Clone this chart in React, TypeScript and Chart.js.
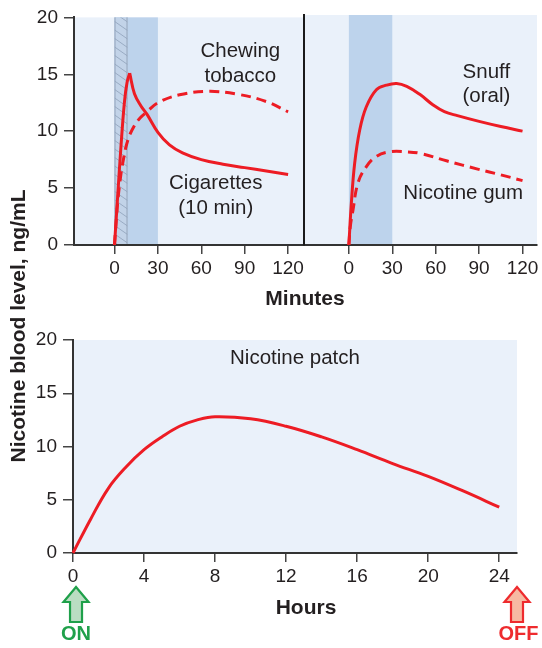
import { useEffect, useRef } from "react";
import { Chart, registerables } from "chart.js";

Chart.register(...registerables);

// ---------------- data ----------------
const levelTicks = [0, 5, 10, 15, 20];
const minuteTicks = [0, 30, 60, 90, 120];
const hourTicks = [0, 4, 8, 12, 16, 20, 24];

// Cigarettes (10 min) – rising limb and decay limb share the peak point
const cigRiseMinutes = [0, 2.3, 4.6, 6.9, 8.7, 10.5];
const cigRiseLevels = [0, 4.5, 8.9, 12.6, 14.3, 15.1];
const cigDecayMinutes = [10.5, 13.8, 18.4, 22.4, 30, 38, 47, 60, 75, 90, 105, 120];
const cigDecayLevels = [15.1, 13.3, 12.2, 11.5, 9.9, 8.8, 8.1, 7.5, 7.1, 6.8, 6.5, 6.2];

// Chewing tobacco
const chewMinutes = [0, 1, 2.3, 4, 5.7, 9.2, 13.8, 18, 22.4, 30, 45, 65, 85, 105, 120];
const chewLevels = [0, 1.8, 3.9, 5.8, 7.2, 9.2, 10.5, 11.2, 11.7, 12.5, 13.2, 13.5, 13.25, 12.6, 11.7];

// Snuff (oral)
const snuffMinutes = [0, 1.7, 4, 7.5, 12, 19, 26, 33, 40, 49, 58, 66, 75, 90, 105, 120];
const snuffLevels = [0, 3.6, 7.1, 10.0, 12.0, 13.5, 13.9, 14.05, 13.8, 13.1, 12.2, 11.6, 11.25, 10.75, 10.3, 9.9];

// Nicotine gum
const gumMinutes = [0, 1, 2.8, 6.3, 12, 19, 28, 40, 50, 68, 89, 105, 120];
const gumLevels = [0, 1.6, 3.0, 5.4, 6.8, 7.7, 8.1, 8.1, 7.95, 7.3, 6.6, 6.1, 5.6];

// Nicotine patch
const patchHours = [0, 1, 2, 3, 4, 5, 6, 7, 8, 10, 12, 14, 16, 18, 20, 22, 24];
const patchLevels = [0, 3.2, 6.1, 8.1, 9.7, 10.9, 11.9, 12.5, 12.8, 12.6, 11.9, 10.9, 9.7, 8.4, 7.2, 5.8, 4.3];

// exposure periods (minutes)
const cigaretteSmoking = [0, 9];
const chewExposure = [0, 30];
const snuffExposure = [0, 30];

// ---------------- style ----------------
const W = 542;
const H = 648;
const FONT = '"Liberation Sans", Arial, Helvetica, sans-serif';
const INK = "#231F20";
const RED = "#ED1C24";
const BG = "#EAF1FA";
const BAND = "#BDD3EC";

const pts = (xs: number[], ys: number[]) => xs.map((x, i) => ({ x, y: ys[i] }));

const panelPlugin: any = {
  id: "panel",
  beforeDraw(chart: any, _a: any, opts: any) {
    const { ctx, chartArea: a, scales } = chart;
    const x = scales.x;
    ctx.save();
    ctx.fillStyle = opts.bg;
    ctx.fillRect(a.left, a.top, a.right - a.left, a.bottom - a.top);
    for (const b of opts.bands || []) {
      const x0 = x.getPixelForValue(b.from);
      const x1 = x.getPixelForValue(b.to);
      ctx.fillStyle = b.color;
      ctx.fillRect(x0, a.top, x1 - x0, a.bottom - a.top);
      if (b.hatch) {
        const w = x1 - x0;
        ctx.save();
        ctx.beginPath();
        ctx.rect(x0, a.top, w, a.bottom - a.top);
        ctx.clip();
        ctx.strokeStyle = b.hatch;
        ctx.lineWidth = 1;
        for (let y = a.top - w; y < a.bottom + w; y += 8.5) {
          ctx.beginPath();
          ctx.moveTo(x0, y);
          ctx.lineTo(x1, y + w * 0.7);
          ctx.stroke();
        }
        ctx.restore();
        ctx.strokeStyle = b.edge;
        ctx.lineWidth = 1;
        ctx.beginPath();
        ctx.moveTo(x0 + 0.5, a.top);
        ctx.lineTo(x0 + 0.5, a.bottom);
        ctx.moveTo(x1 - 0.5, a.top);
        ctx.lineTo(x1 - 0.5, a.bottom);
        ctx.stroke();
      }
    }
    ctx.restore();
  },
  afterDatasetsDraw(chart: any, _a: any, opts: any) {
    const { ctx, scales } = chart;
    ctx.save();
    ctx.fillStyle = INK;
    ctx.font = `20.5px ${FONT}`;
    ctx.textAlign = "center";
    ctx.textBaseline = "middle";
    for (const l of opts.labels || []) {
      ctx.fillText(l.text, scales.x.getPixelForValue(l.x), scales.y.getPixelForValue(l.y));
    }
    ctx.restore();
  },
  afterDraw(chart: any, _a: any, opts: any) {
    const { ctx, chartArea: a, scales } = chart;
    for (const m of opts.markers || []) {
      const cx = scales.x.getPixelForValue(m.x);
      const tip = a.bottom + 34;
      const base = a.bottom + 49;
      const bot = a.bottom + 69;
      ctx.save();
      ctx.beginPath();
      ctx.moveTo(cx, tip);
      ctx.lineTo(cx + 12.5, base);
      ctx.lineTo(cx + 6, base);
      ctx.lineTo(cx + 6, bot);
      ctx.lineTo(cx - 6, bot);
      ctx.lineTo(cx - 6, base);
      ctx.lineTo(cx - 12.5, base);
      ctx.closePath();
      ctx.fillStyle = m.fill;
      ctx.fill();
      ctx.lineWidth = 2.2;
      ctx.lineJoin = "miter";
      ctx.strokeStyle = m.stroke;
      ctx.stroke();
      ctx.fillStyle = m.stroke;
      ctx.font = `bold 20px ${FONT}`;
      ctx.textAlign = "center";
      ctx.textBaseline = "middle";
      ctx.fillText(m.text, cx + (m.dx || 0), a.bottom + 81);
      ctx.restore();
    }
  },
};

function lineDs(data: any[], dashed: boolean) {
  return {
    data,
    borderColor: RED,
    borderWidth: 3,
    borderDash: dashed ? [10, 6] : [],
    pointRadius: 0,
    fill: false,
    tension: 0.4,
    borderCapStyle: "butt",
    clip: false,
  };
}

function xScale(min: number, max: number, ticks: number[], height: number) {
  return {
    type: "linear",
    min,
    max,
    afterBuildTicks: (s: any) => {
      s.ticks = ticks.map((v) => ({ value: v }));
    },
    afterFit: (s: any) => {
      s.height = height;
    },
    grid: { display: true, drawOnChartArea: false, drawTicks: true, tickLength: 9, color: "#444", lineWidth: 1.5 },
    border: { display: true, color: "#333", width: 2 },
    ticks: { color: INK, font: { family: FONT, size: 19 }, padding: 3, maxRotation: 0, autoSkip: false },
  };
}

function yScale(width: number, showTicks: boolean) {
  return {
    type: "linear",
    min: 0,
    max: 20,
    afterBuildTicks: (s: any) => {
      s.ticks = levelTicks.map((v) => ({ value: v }));
    },
    afterFit: (s: any) => {
      s.width = width;
    },
    grid: { display: showTicks, drawOnChartArea: false, drawTicks: showTicks, tickLength: 10, color: "#444", lineWidth: 1.5 },
    border: { display: true, color: showTicks ? "#333" : "#1a1a1a", width: 2 },
    ticks: { display: showTicks, color: INK, font: { family: FONT, size: 19 }, padding: 6 },
  };
}

function baseOptions(padding: any, x: any, y: any, panel: any) {
  return {
    responsive: false,
    maintainAspectRatio: false,
    animation: false,
    devicePixelRatio: 1,
    events: [],
    layout: { padding },
    scales: { x, y },
    plugins: { legend: { display: false }, tooltip: { enabled: false }, panel },
  };
}

export default function App() {
  const aRef = useRef<HTMLCanvasElement>(null);
  const bRef = useRef<HTMLCanvasElement>(null);
  const cRef = useRef<HTMLCanvasElement>(null);

  useEffect(() => {
    const charts: Chart[] = [];

    charts.push(
      new Chart(aRef.current!, {
        type: "line",
        data: {
          datasets: [
            lineDs(pts(chewMinutes, chewLevels), true),
            lineDs(pts(cigRiseMinutes, cigRiseLevels), false),
            lineDs(pts(cigDecayMinutes, cigDecayLevels), false),
          ] as any,
        },
        options: baseOptions(
          { left: 0, top: 15, right: W - 304, bottom: H - 280 },
          xScale(-28, 131, minuteTicks, 35),
          yScale(74, true),
          {
            bg: BG,
            bands: [
              { from: chewExposure[0], to: chewExposure[1], color: BAND },
              { from: cigaretteSmoking[0], to: cigaretteSmoking[1], color: "#C2D3E8", hatch: "#99ABC3", edge: "#93A4BA" },
            ],
            labels: [
              { text: "Chewing", x: 87, y: 17.0 },
              { text: "tobacco", x: 87, y: 14.8 },
              { text: "Cigarettes", x: 70, y: 5.4 },
              { text: "(10 min)", x: 70, y: 3.2 },
            ],
          }
        ) as any,
        plugins: [panelPlugin],
      })
    );

    charts.push(
      new Chart(bRef.current!, {
        type: "line",
        data: {
          datasets: [lineDs(pts(gumMinutes, gumLevels), true), lineDs(pts(snuffMinutes, snuffLevels), false)] as any,
        },
        options: baseOptions(
          { left: 290, top: 15, right: W - 537, bottom: H - 280 },
          xScale(-31, 130, minuteTicks, 35),
          yScale(14, false),
          {
            bg: BG,
            bands: [{ from: snuffExposure[0], to: snuffExposure[1], color: BAND }],
            labels: [
              { text: "Snuff", x: 95, y: 15.05 },
              { text: "(oral)", x: 95, y: 12.9 },
              { text: "Nicotine gum", x: 79, y: 4.5 },
            ],
          }
        ) as any,
        plugins: [panelPlugin],
      })
    );

    charts.push(
      new Chart(cRef.current!, {
        type: "line",
        data: { datasets: [lineDs(pts(patchHours, patchLevels), false)] as any },
        options: baseOptions(
          { left: 0, top: 340, right: W - 517, bottom: H - 553 - 35 },
          xScale(0, 25, hourTicks, 35),
          yScale(73, true),
          {
            bg: BG,
            labels: [{ text: "Nicotine patch", x: 12.5, y: 18.3 }],
            markers: [
              { x: 0.17, text: "ON", stroke: "#1FA04A", fill: "#BADDC2" },
              { x: 25, text: "OFF", stroke: "#EE2B2E", fill: "#F7B9A2", dx: 1.5 },
            ],
          }
        ) as any,
        plugins: [panelPlugin],
      })
    );

    return () => charts.forEach((c) => c.destroy());
  }, []);

  const canvasStyle: any = { position: "absolute", left: 0, top: 0, width: W, height: H };
  const title: any = {
    position: "absolute",
    height: 24,
    lineHeight: "24px",
    font: `bold 21px ${FONT}`,
    color: INK,
    whiteSpace: "nowrap",
    textAlign: "center",
  };

  return (
    <div style={{ position: "absolute", left: 0, top: 0, width: W, height: H, background: "#fff", overflow: "hidden" }}>
      <canvas ref={aRef} width={W} height={H} style={canvasStyle} />
      <canvas ref={bRef} width={W} height={H} style={canvasStyle} />
      <canvas ref={cRef} width={W} height={H} style={canvasStyle} />
      <div style={{ ...title, left: 205, width: 200, top: 285.5 }}>Minutes</div>
      <div style={{ ...title, left: 206, width: 200, top: 594.5 }}>Hours</div>
      <div style={{ ...title, left: 18 - 200, width: 400, top: 326 - 12, transform: "rotate(-90deg)" }}>
        Nicotine blood level, ng/mL
      </div>
    </div>
  );
}
